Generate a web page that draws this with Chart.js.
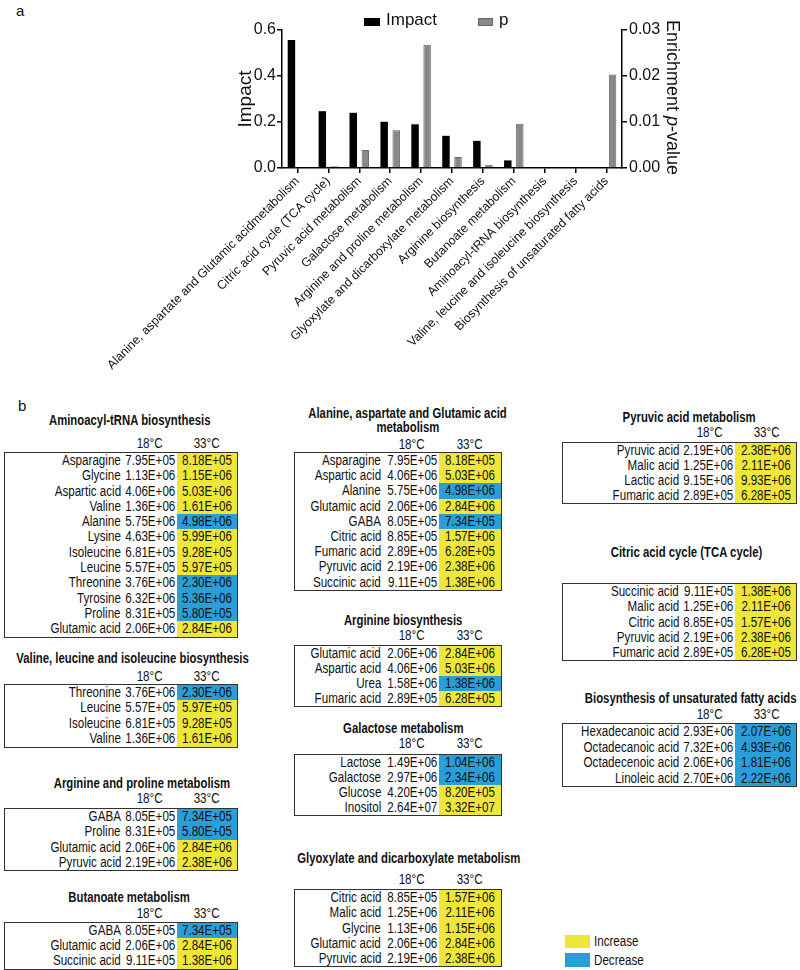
<!DOCTYPE html>
<html>
<head>
<meta charset="utf-8">
<script src="https://cdn.jsdelivr.net/npm/chart.js@4.4.1/dist/chart.umd.min.js"></script>
<style>
  body { margin: 0; background: #fff; }
  #page { position: relative; width: 800px; height: 970px; overflow: hidden; font-family: "Liberation Sans", Arial, sans-serif; color: #111; }
  #chartBox { position: absolute; left: 0; top: 0; width: 800px; height: 390px; }
  .abs { position: absolute; white-space: nowrap; }
  .panel { font-size: 15px; }
  .sq { display: inline-block; transform: scaleX(0.83); }
  .ttl { font-weight: bold; font-size: 14px; text-align: center; line-height: 14px; }
  .ttl .sq { transform: scaleX(0.81); transform-origin: 50% 50%; }
  .hdr { font-size: 14px; line-height: 14px; width: 60px; text-align: center; }
  .box { border: 1.5px solid #333; box-sizing: content-box; }
  .row { position: relative; font-size: 14px; }
  .row .t { position: absolute; top: 0; white-space: nowrap; transform: scaleX(0.83); transform-origin: 100% 50%; }
  .row .cell { position: absolute; top: 0; right: 0; height: 100%; }
  .row .cell .t { left: 50%; transform: translateX(-50%) scaleX(0.83); transform-origin: 50% 50%; }
  .lgd { font-size: 17px; }
  .sw { position: absolute; }
</style>
</head>
<body>
<div id="page">
  <div class="abs panel" style="left:16px;top:2px;">a</div>
  <div class="abs panel" style="left:18px;top:397px;">b</div>
  <div id="chartBox"><canvas id="impactChart"></canvas></div>
  <!-- legend of panel a -->
  <div class="sw" style="left:364px;top:18px;width:16px;height:8px;background:#000;"></div>
  <div class="abs lgd" style="left:386px;top:10px;">Impact</div>
  <div class="sw" style="left:478px;top:18px;width:15px;height:8px;background:#888;border:1px solid #666;box-sizing:border-box;"></div>
  <div class="abs lgd" style="left:499px;top:10px;">p</div>
  <!-- right axis title -->
  <div class="abs" style="left:662px;top:20px;writing-mode:vertical-rl;font-size:18px;line-height:22px;">Enrichment <i>p</i>-value</div>
  <div id="tables"></div>
  <!-- legend of panel b -->
  <div class="sw" style="left:565px;top:935px;width:25px;height:13px;background:#efe63a;"></div>
  <div class="abs" style="left:594px;top:933px;font-size:14px;"><span class="sq" style="transform-origin:0 50%;">Increase</span></div>
  <div class="sw" style="left:565px;top:953px;width:25px;height:14px;background:#2a9ed8;"></div>
  <div class="abs" style="left:594px;top:952px;font-size:14px;"><span class="sq" style="transform-origin:0 50%;">Decrease</span></div>
</div>
<script>
// ===== PANEL A DATA =====
const pathways = [
  'Alanine, aspartate and Glutamic acidmetabolism',
  'Citric acid cycle (TCA cycle)',
  'Pyruvic acid metabolism',
  'Galactose metabolism',
  'Arginine and proline metabolism',
  'Glyoxylate and dicarboxylate metabolism',
  'Arginine biosynthesis',
  'Butanoate metabolism',
  'Aminoacyl-tRNA biosynthesis',
  'Valine, leucine and isoleucine biosynthesis',
  'Biosynthesis of unsaturated fatty acids'
];
const impact = [0.556, 0.247, 0.240, 0.201, 0.190, 0.140, 0.118, 0.033, 0, 0, 0];
const pValue = [0, 0.0004, 0.0039, 0.0082, 0.0268, 0.0024, 0.0007, 0.0096, 0, 0, 0.0203];
const impactTicks = [0, 0.2, 0.4, 0.6];
const pTicks = [0, 0.01, 0.02, 0.03];

// ===== PANEL B DATA =====
const aminoacylNames = ['Asparagine', 'Glycine', 'Aspartic acid', 'Valine', 'Alanine', 'Lysine', 'Isoleucine', 'Leucine', 'Threonine', 'Tyrosine', 'Proline', 'Glutamic acid'];
const aminoacyl18 = [7.95e5, 1.13e6, 4.06e6, 1.36e6, 5.75e6, 4.63e6, 6.81e5, 5.57e5, 3.76e6, 6.32e6, 8.31e5, 2.06e6];
const aminoacyl33 = [8.18e5, 1.15e6, 5.03e6, 1.61e6, 4.98e6, 5.99e6, 9.28e5, 5.97e5, 2.30e6, 5.36e6, 5.80e5, 2.84e6];

const valineNames = ['Threonine', 'Leucine', 'Isoleucine', 'Valine'];
const valine18 = [3.76e6, 5.57e5, 6.81e5, 1.36e6];
const valine33 = [2.30e6, 5.97e5, 9.28e5, 1.61e6];

const argProNames = ['GABA', 'Proline', 'Glutamic acid', 'Pyruvic acid'];
const argPro18 = [8.05e5, 8.31e5, 2.06e6, 2.19e6];
const argPro33 = [7.34e5, 5.80e5, 2.84e6, 2.38e6];

const butanoateNames = ['GABA', 'Glutamic acid', 'Succinic acid'];
const butanoate18 = [8.05e5, 2.06e6, 9.11e5];
const butanoate33 = [7.34e5, 2.84e6, 1.38e6];

const alanineNames = ['Asparagine', 'Aspartic acid', 'Alanine', 'Glutamic acid', 'GABA', 'Citric acid', 'Fumaric acid', 'Pyruvic acid', 'Succinic acid'];
const alanine18 = [7.95e5, 4.06e6, 5.75e6, 2.06e6, 8.05e5, 8.85e5, 2.89e5, 2.19e6, 9.11e5];
const alanine33 = [8.18e5, 5.03e6, 4.98e6, 2.84e6, 7.34e5, 1.57e6, 6.28e5, 2.38e6, 1.38e6];

const argBioNames = ['Glutamic acid', 'Aspartic acid', 'Urea', 'Fumaric acid'];
const argBio18 = [2.06e6, 4.06e6, 1.58e6, 2.89e5];
const argBio33 = [2.84e6, 5.03e6, 1.38e6, 6.28e5];

const galactoseNames = ['Lactose', 'Galactose', 'Glucose', 'Inositol'];
const galactose18 = [1.49e6, 2.97e6, 4.20e5, 2.64e7];
const galactose33 = [1.04e6, 2.34e6, 8.20e5, 3.32e7];

const glyoxylateNames = ['Citric acid', 'Malic acid', 'Glycine', 'Glutamic acid', 'Pyruvic acid'];
const glyoxylate18 = [8.85e5, 1.25e6, 1.13e6, 2.06e6, 2.19e6];
const glyoxylate33 = [1.57e6, 2.11e6, 1.15e6, 2.84e6, 2.38e6];

const pyruvicNames = ['Pyruvic acid', 'Malic acid', 'Lactic acid', 'Fumaric acid'];
const pyruvic18 = [2.19e6, 1.25e6, 9.15e6, 2.89e5];
const pyruvic33 = [2.38e6, 2.11e6, 9.93e6, 6.28e5];

const tcaNames = ['Succinic acid', 'Malic acid', 'Citric acid', 'Pyruvic acid', 'Fumaric acid'];
const tca18 = [9.11e5, 1.25e6, 8.85e5, 2.19e6, 2.89e5];
const tca33 = [1.38e6, 2.11e6, 1.57e6, 2.38e6, 6.28e5];

const fattyNames = ['Hexadecanoic acid', 'Octadecanoic acid', 'Octadecenoic acid', 'Linoleic acid'];
const fatty18 = [2.93e6, 7.32e6, 2.06e6, 2.70e6];
const fatty33 = [2.07e6, 4.93e6, 1.81e6, 2.22e6];

// ===== CHART =====
const sans = '"Liberation Sans", Arial, sans-serif';

const impactChart = new Chart(document.getElementById('impactChart'), {
  type: 'bar',
  data: {
    labels: pathways,
    datasets: [{
      label: 'Impact',
      data: impact,
      yAxisID: 'y',
      backgroundColor: '#000',
      barPercentage: 0.62,
      categoryPercentage: 0.78
    }, {
      label: 'p',
      data: pValue,
      yAxisID: 'y1',
      backgroundColor: '#888',
      borderColor: '#666',
      borderWidth: 1,
      barPercentage: 0.62,
      categoryPercentage: 0.78
    }]
  },
  options: {
    responsive: true,
    maintainAspectRatio: false,
    animation: false,
    layout: { padding: { left: 222, right: 78, top: 30, bottom: 0 } },
    plugins: { legend: { display: false }, tooltip: { enabled: false } },
    scales: {
      x: {
        offset: true,
        grid: { display: true, drawOnChartArea: false, offset: false, color: '#000', lineWidth: 1.5, tickLength: 5 },
        border: { color: '#000', width: 1.5 },
        ticks: { autoSkip: false, maxRotation: 45, minRotation: 45, padding: 1, color: '#111', font: { family: sans, size: 12.4 } },
        afterFit: s => { s.height = 222; }
      },
      y: {
        position: 'left',
        min: 0, max: 0.6,
        afterBuildTicks: s => { s.ticks = impactTicks.map(v => ({ value: v })); },
        grid: { drawOnChartArea: false, color: '#000', lineWidth: 1.5, tickLength: 5 },
        border: { color: '#000', width: 1.5 },
        ticks: { padding: 1, color: '#111', font: { family: sans, size: 16 }, callback: v => v.toFixed(1) },
        title: { display: true, text: 'Impact', color: '#111', font: { family: sans, size: 19 }, padding: { top: 12, bottom: 0 } },
        afterFit: s => { s.width = 60; }
      },
      y1: {
        position: 'right',
        min: 0, max: 0.03,
        afterBuildTicks: s => { s.ticks = pTicks.map(v => ({ value: v })); },
        grid: { drawOnChartArea: false, color: '#000', lineWidth: 1.5, tickLength: 5 },
        border: { color: '#000', width: 1.5 },
        ticks: { padding: 2, color: '#111', font: { family: sans, size: 16 }, callback: v => v.toFixed(2) },
        afterFit: s => { s.width = 100; }
      }
    }
  }
});

// ===== TABLES =====
function fmt(v) {
  const [m, e] = v.toExponential(2).split('e');
  const n = parseInt(e, 10);
  return m + 'E' + (n < 0 ? '-' : '+') + String(Math.abs(n)).padStart(2, '0');
}
const sq = s => `<span class="sq">${s}</span>`;

// column geometry for the three columns of panel b
const cols = {
  left:  { boxL: 4,   boxW: 232, valW: 52, colW: 60, h18: 150, h33: 207 },
  mid:   { boxL: 294, boxW: 206, valW: 54, colW: 62, h18: 412, h33: 470 },
  right: { boxL: 562, boxW: 233, valW: 52, colW: 61, h18: 710, h33: 767 }
};

const tableDefs = [
  { col: 'left', title: 'Aminoacyl-tRNA biosynthesis', tx: 130, ty: 420, hy: 443, top: 452, rowH: 15.3, names: aminoacylNames, a: aminoacyl18, b: aminoacyl33 },
  { col: 'left', title: 'Valine, leucine and isoleucine biosynthesis', tx: 133, ty: 658, hy: 676, top: 684, rowH: 15.4, names: valineNames, a: valine18, b: valine33 },
  { col: 'left', title: 'Arginine and proline metabolism', tx: 142, ty: 783, hy: 798, top: 808, rowH: 15.3, names: argProNames, a: argPro18, b: argPro33 },
  { col: 'left', title: 'Butanoate metabolism', tx: 129, ty: 897, hy: 913, top: 922, rowH: 15.2, names: butanoateNames, a: butanoate18, b: butanoate33 },
  { col: 'mid', title: 'Alanine, aspartate and Glutamic acid metabolism', tx: 408, ty: 413, split: true, hy: 444, top: 452, rowH: 15.2, names: alanineNames, a: alanine18, b: alanine33 },
  { col: 'mid', title: 'Arginine biosynthesis', tx: 403, ty: 620, hy: 635, top: 645, rowH: 15.1, names: argBioNames, a: argBio18, b: argBio33 },
  { col: 'mid', title: 'Galactose metabolism', tx: 403, ty: 728, hy: 743, top: 754, rowH: 15.1, names: galactoseNames, a: galactose18, b: galactose33 },
  { col: 'mid', title: 'Glyoxylate and dicarboxylate metabolism', tx: 409, ty: 858, hy: 879, top: 889, rowH: 15.3, names: glyoxylateNames, a: glyoxylate18, b: glyoxylate33 },
  { col: 'right', title: 'Pyruvic acid metabolism', tx: 689, ty: 417, hy: 432, top: 442, rowH: 15.1, names: pyruvicNames, a: pyruvic18, b: pyruvic33 },
  { col: 'right', title: 'Citric acid cycle (TCA cycle)', tx: 687, ty: 552, hy: null, top: 583, rowH: 15.3, names: tcaNames, a: tca18, b: tca33 },
  { col: 'right', title: 'Biosynthesis of unsaturated fatty acids', tx: 691, ty: 698, hy: 714, top: 723, rowH: 15.6, names: fattyNames, a: fatty18, b: fatty33 }
];

const UP = '#efe63a', DOWN = '#2a9ed8';
const host = document.getElementById('tables');
let html = '';
tableDefs.forEach(t => {
  const c = cols[t.col];
  let lines = [t.title];
  if (t.split) {
    const k = t.title.lastIndexOf(' ');
    lines = [t.title.slice(0, k), t.title.slice(k + 1)];
  }
  lines.forEach((ln, j) => {
    html += `<div class="abs ttl" style="left:${t.tx - 200}px;top:${t.ty - 7 + j * 14}px;width:400px;">${sq(ln)}</div>`;
  });
  if (t.hy) {
    html += `<div class="abs hdr" style="left:${c.h18 - 30}px;top:${t.hy - 7}px;">${sq('18°C')}</div>`;
    html += `<div class="abs hdr" style="left:${c.h33 - 30}px;top:${t.hy - 7}px;">${sq('33°C')}</div>`;
  }
  let rows = '';
  t.names.forEach((n, i) => {
    const bg = t.b[i] > t.a[i] ? UP : DOWN;
    rows += `<div class="row" style="height:${t.rowH}px;line-height:${t.rowH}px;">` +
      `<span class="t" style="right:${c.valW + c.colW + 4}px;">${n}</span>` +
      `<span class="t" style="right:${c.colW + 2}px;">${fmt(t.a[i])}</span>` +
      `<span class="cell" style="width:${c.colW}px;background:${bg};"><span class="t">${fmt(t.b[i])}</span></span></div>`;
  });
  html += `<div class="abs box" style="left:${c.boxL}px;top:${t.top}px;width:${c.boxW}px;">${rows}</div>`;
});
host.innerHTML = html;
</script>
</body>
</html>
